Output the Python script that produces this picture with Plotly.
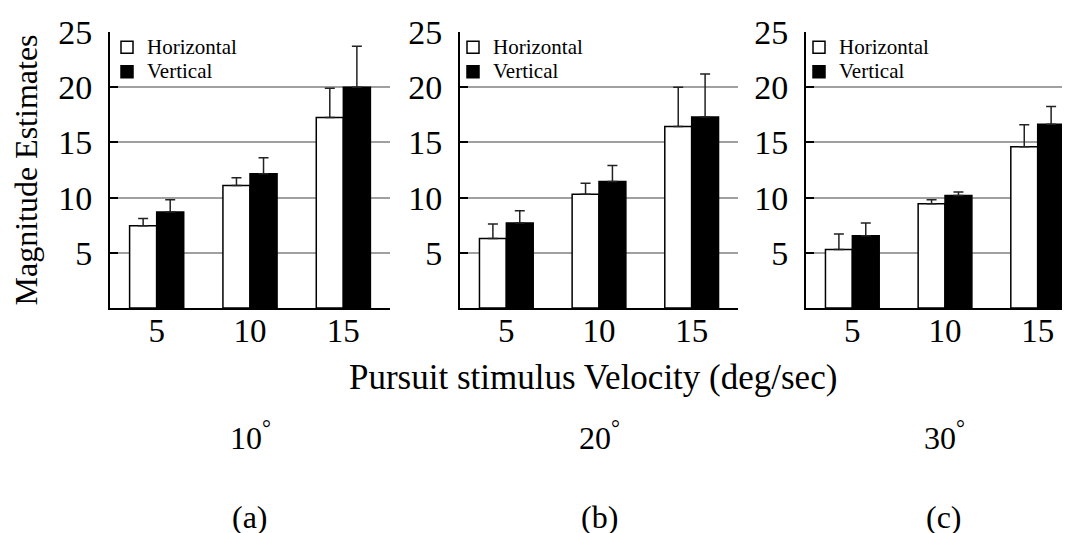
import plotly.graph_objects as go

# ---- data ----
velocities = ["5", "10", "15"]
panel_names = ["10°", "20°", "30°"]
panel_tags = ["(a)", "(b)", "(c)"]
series_names = ["Horizontal", "Vertical"]

horiz_a = [7.45, 11.1, 17.25]
horiz_a_err = [0.65, 0.7, 2.65]
vert_a = [8.7, 12.15, 20.0]
vert_a_err = [1.1, 1.45, 3.7]

horiz_b = [6.3, 10.3, 16.45]
horiz_b_err = [1.3, 1.0, 3.55]
vert_b = [7.7, 11.45, 17.3]
vert_b_err = [1.1, 1.45, 3.9]

horiz_c = [5.3, 9.45, 14.6]
horiz_c_err = [1.4, 0.35, 2.0]
vert_c = [6.55, 10.2, 16.65]
vert_c_err = [1.15, 0.3, 1.6]

y_ticks = [5, 10, 15, 20, 25]

# ---- layout helpers ----
W, H = 1070, 533
FONT = "Liberation Serif, Times New Roman, serif"

panels = [
    (horiz_a, horiz_a_err, vert_a, vert_a_err),
    (horiz_b, horiz_b_err, vert_b, vert_b_err),
    (horiz_c, horiz_c_err, vert_c, vert_c_err),
]
x_px = [(102, 382), (452, 730), (798, 1070)]
x_ranges = [[-0.5, 2.5], [-0.5, 2.5], [-0.5, 2.435]]
legend_left_px = [99, 445, 791]
label_center_px = [242, 591, 936]


def legend_label(s):
    return '<span style="font-size:21px">' + s + "</span>"


fig = go.Figure()
for i, (h, he, v, ve) in enumerate(panels):
    sfx = "" if i == 0 else str(i + 1)
    leg = "legend" + sfx
    err_style = dict(type="data", symmetric=False, arrayminus=[0, 0, 0],
                     color="#222222", thickness=1.5, width=5)
    fig.add_trace(go.Bar(
        x=velocities, y=h, name=legend_label(series_names[0]), legend=leg,
        xaxis="x" + sfx, yaxis="y" + sfx,
        marker=dict(color="white", line=dict(color="black", width=1.5)),
        error_y=dict(array=he, **err_style),
    ))
    fig.add_trace(go.Bar(
        x=velocities, y=v, name=legend_label(series_names[1]), legend=leg,
        xaxis="x" + sfx, yaxis="y" + sfx,
        marker=dict(color="black", line=dict(color="black", width=1.5)),
        error_y=dict(array=ve, **err_style),
    ))

layout = dict(
    width=W, height=H,
    margin=dict(l=0, r=0, t=0, b=0),
    paper_bgcolor="white", plot_bgcolor="white",
    barmode="group", bargap=0.42, bargroupgap=0,
    font=dict(family=FONT, color="black"),
)

y_dom = [(H - 300) / H, (H - 24) / H]
for i in range(3):
    sfx = "" if i == 0 else str(i + 1)
    x0, x1 = x_px[i]
    layout["xaxis" + sfx] = dict(
        domain=[x0 / W, x1 / W], anchor="y" + sfx, type="category",
        range=x_ranges[i], showline=True, linecolor="black", linewidth=2,
        ticks="", showgrid=False, tickfont=dict(size=33, family=FONT),
        ticklabelstandoff=-8, automargin=False, fixedrange=True,
    )
    ya = dict(
        domain=y_dom, anchor="x" + sfx, range=[0, 25],
        tickvals=y_ticks, showline=True, linecolor="black", linewidth=2,
        ticks="inside", ticklen=8, tickwidth=2, tickcolor="black",
        showgrid=True, gridcolor="#a0a0a0", gridwidth=2, zeroline=False,
        tickfont=dict(size=34, family=FONT), ticklabelstandoff=9,
        automargin=False, fixedrange=True,
    )
    if i == 0:
        ya["title"] = dict(text="Magnitude Estimates",
                           font=dict(size=32, family=FONT), standoff=29)
    layout["yaxis" + sfx] = ya
    layout["legend" + sfx] = dict(
        x=legend_left_px[i] / W, y=1 - 22 / H, xanchor="left", yanchor="top",
        bgcolor="rgba(0,0,0,0)", borderwidth=0,
        font=dict(size=16.5, family=FONT), tracegroupgap=0,
    )

annotations = [
    dict(text="Pursuit stimulus Velocity (deg/sec)", x=585 / W, y=1 - 369 / H,
         xref="paper", yref="paper", xanchor="center", yanchor="middle",
         showarrow=False, font=dict(size=35, family=FONT)),
]
for i in range(3):
    cx = label_center_px[i] / W
    name = panel_names[i].replace("°", "<sup>°</sup>")
    annotations.append(dict(text=name, x=cx, y=1 - 428 / H, xref="paper", yref="paper",
                            xanchor="center", yanchor="middle", showarrow=False,
                            font=dict(size=32, family=FONT)))
    annotations.append(dict(text=panel_tags[i], x=cx, y=1 - 509 / H, xref="paper", yref="paper",
                            xanchor="center", yanchor="middle", showarrow=False,
                            font=dict(size=32, family=FONT)))
layout["annotations"] = annotations

fig.update_layout(**layout)
fig.write_html("out.html")
